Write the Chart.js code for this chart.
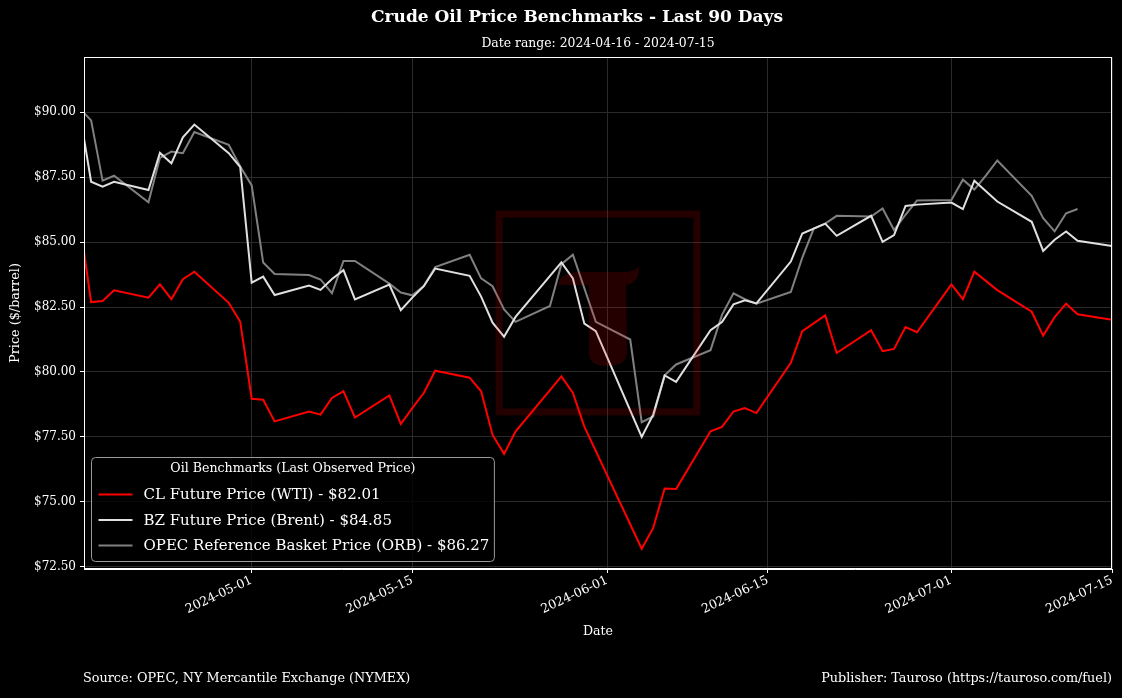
<!DOCTYPE html>
<html>
<head>
<meta charset="utf-8">
<title>Crude Oil Price Benchmarks - Last 90 Days</title>
<script src="https://cdn.jsdelivr.net/npm/chart.js@4.4.1/dist/chart.umd.min.js"></script>
<style>
  html, body { margin: 0; padding: 0; background: #000; }
  #wrap { width: 1122px; height: 698px; }
</style>
</head>
<body>
<div id="wrap"><canvas id="oilChart" width="1122" height="698"></canvas></div>
<script>
// CL Future (WTI), trading days
const wtiDates = [
  '2024-04-16','2024-04-17','2024-04-18','2024-04-19','2024-04-22','2024-04-23','2024-04-24','2024-04-25','2024-04-26',
  '2024-04-29','2024-04-30','2024-05-01','2024-05-02','2024-05-03','2024-05-06','2024-05-07','2024-05-08','2024-05-09',
  '2024-05-10','2024-05-13','2024-05-14','2024-05-15','2024-05-16','2024-05-17','2024-05-20','2024-05-21','2024-05-22',
  '2024-05-23','2024-05-24','2024-05-28','2024-05-29','2024-05-30','2024-06-04','2024-06-05','2024-06-06','2024-06-07',
  '2024-06-10','2024-06-11','2024-06-12','2024-06-13','2024-06-14','2024-06-17','2024-06-18','2024-06-20','2024-06-21',
  '2024-06-24','2024-06-25','2024-06-26','2024-06-27','2024-06-28','2024-07-01','2024-07-02','2024-07-03','2024-07-05',
  '2024-07-08','2024-07-09','2024-07-10','2024-07-11','2024-07-12','2024-07-15'
];
const wtiPrices = [
  85.80, 82.69, 82.73, 83.14, 82.86, 83.37, 82.80, 83.57, 83.86,
  82.66, 81.93, 78.97, 78.93, 78.10, 78.48, 78.36, 79.00, 79.26,
  78.25, 79.10, 78.00, 78.61, 79.19, 80.05, 79.78, 79.26, 77.58,
  76.85, 77.71, 79.83, 79.19, 77.90, 73.20, 74.00, 75.52, 75.50,
  77.72, 77.89, 78.48, 78.61, 78.42, 80.35, 81.57, 82.18, 80.73,
  81.61, 80.80, 80.89, 81.73, 81.53, 83.37, 82.80, 83.86, 83.15,
  82.32, 81.40, 82.11, 82.63, 82.22, 82.01
];

// BZ Future (Brent)
const brentDates = [
  '2024-04-16','2024-04-17','2024-04-18','2024-04-19','2024-04-22','2024-04-23','2024-04-24','2024-04-25','2024-04-26',
  '2024-04-29','2024-04-30','2024-05-01','2024-05-02','2024-05-03','2024-05-06','2024-05-07','2024-05-08','2024-05-09',
  '2024-05-10','2024-05-13','2024-05-14','2024-05-15','2024-05-16','2024-05-17','2024-05-20','2024-05-21','2024-05-22',
  '2024-05-23','2024-05-24','2024-05-28','2024-05-29','2024-05-30','2024-05-31','2024-06-04','2024-06-05','2024-06-06',
  '2024-06-07','2024-06-10','2024-06-11','2024-06-12','2024-06-13','2024-06-14','2024-06-17','2024-06-18','2024-06-20',
  '2024-06-21','2024-06-24','2024-06-25','2024-06-26','2024-06-27','2024-06-28','2024-07-01','2024-07-02','2024-07-03',
  '2024-07-05','2024-07-08','2024-07-09','2024-07-10','2024-07-11','2024-07-12','2024-07-15'
];
const brentPrices = [
  90.00, 87.32, 87.13, 87.32, 87.00, 88.43, 88.03, 89.03, 89.52,
  88.42, 87.88, 83.44, 83.67, 82.96, 83.33, 83.16, 83.58, 83.92,
  82.79, 83.36, 82.38, 82.86, 83.30, 83.98, 83.70, 82.90, 81.90,
  81.36, 82.12, 84.22, 83.60, 81.86, 81.57, 77.50, 78.36, 79.87,
  79.62, 81.61, 81.92, 82.60, 82.76, 82.64, 84.25, 85.33, 85.71,
  85.24, 86.01, 85.01, 85.27, 86.39, 86.44, 86.52, 86.27, 87.36,
  86.56, 85.78, 84.66, 85.09, 85.41, 85.05, 84.85
];

// OPEC Reference Basket (ORB)
const orbDates = [
  '2024-04-16','2024-04-17','2024-04-18','2024-04-19','2024-04-22','2024-04-23','2024-04-24','2024-04-25','2024-04-26',
  '2024-04-29','2024-04-30','2024-05-01','2024-05-02','2024-05-03','2024-05-06','2024-05-07','2024-05-08','2024-05-09',
  '2024-05-10','2024-05-13','2024-05-14','2024-05-15','2024-05-16','2024-05-17','2024-05-20','2024-05-21','2024-05-22',
  '2024-05-23','2024-05-24','2024-05-27','2024-05-28','2024-05-29','2024-05-31','2024-06-03','2024-06-04','2024-06-05',
  '2024-06-06','2024-06-07','2024-06-10','2024-06-11','2024-06-12','2024-06-13','2024-06-14','2024-06-17','2024-06-18',
  '2024-06-19','2024-06-20','2024-06-21','2024-06-24','2024-06-25','2024-06-26','2024-06-27','2024-06-28','2024-07-01',
  '2024-07-02','2024-07-03','2024-07-04','2024-07-05','2024-07-08','2024-07-09','2024-07-10','2024-07-11','2024-07-12'
];
const orbPrices = [
  90.15, 89.68, 87.36, 87.55, 86.53, 88.24, 88.48, 88.42, 89.23,
  88.74, 87.91, 87.18, 84.21, 83.77, 83.73, 83.56, 83.03, 84.27,
  84.27, 83.40, 83.06, 82.95, 83.31, 84.04, 84.51, 83.60, 83.30,
  82.41, 81.93, 82.54, 84.15, 84.51, 81.93, 81.25, 78.07, 78.29,
  79.87, 80.29, 80.84, 82.20, 83.03, 82.80, 82.63, 83.08, 84.40,
  85.52, 85.71, 86.01, 85.98, 86.29, 85.46, 86.05, 86.60, 86.62,
  87.40, 87.02, 87.56, 88.14, 86.78, 85.92, 85.41, 86.11, 86.27
];

// axis ticks
const xTickDates = ['2024-05-01', '2024-05-15', '2024-06-01', '2024-06-15', '2024-07-01', '2024-07-15'];
const yTickValues = [72.5, 75, 77.5, 80, 82.5, 85, 87.5, 90];

const startDay = Date.UTC(2024, 3, 16);
const DAY = 86400000;

// дата 'YYYY-MM-DD' -> число дней от 16 апреля
function dayNum(s) {
  const [y, m, d] = s.split('-').map(Number);
  return (Date.UTC(y, m - 1, d) - startDay) / DAY;
}
function dayLabel(n) {
  return new Date(startDay + Math.round(n) * DAY).toISOString().slice(0, 10);
}
function toPoints(dates, prices) {
  return dates.map((d, i) => ({ x: dayNum(d), y: prices[i] }));
}
function lastPrice(arr) {
  return '$' + arr[arr.length - 1].toFixed(2);
}

const serif = 'DejaVu Serif';

// водяной знак, легенда, подписи
const decorPlugin = {
  id: 'decor',
  afterDatasetsDraw(chart) {
    const ctx = chart.ctx;
    const a = chart.chartArea;
    const cx = (a.left + a.right) / 2;
    const cy = (a.top + a.bottom) / 2;
    const half = (a.bottom - a.top) * 0.2;
    ctx.save();
    ctx.strokeStyle = 'rgba(255,0,0,0.14)';
    ctx.fillStyle = 'rgba(255,0,0,0.14)';
    ctx.lineWidth = 7;
    ctx.strokeRect(cx - half + 3.5, cy - half + 3.5, half * 2 - 7, half * 2 - 7);
    // логотип T
    ctx.beginPath();
    ctx.moveTo(cx - 40, cy - 28);
    ctx.quadraticCurveTo(cx - 38, cy - 40, cx - 20, cy - 41);
    ctx.lineTo(cx + 28, cy - 41);
    ctx.quadraticCurveTo(cx + 38, cy - 42, cx + 41, cy - 47);
    ctx.quadraticCurveTo(cx + 42, cy - 30, cx + 28, cy - 28);
    ctx.lineTo(cx + 29, cy + 40);
    ctx.quadraticCurveTo(cx + 28, cy + 53, cx + 9, cy + 53);
    ctx.quadraticCurveTo(cx - 9, cy + 53, cx - 9, cy + 40);
    ctx.lineTo(cx - 9, cy - 28);
    ctx.closePath();
    ctx.fill();
    ctx.restore();
  },
  afterDraw(chart) {
    const ctx = chart.ctx;
    const a = chart.chartArea;
    ctx.save();
    // рамка вокруг области графика
    ctx.strokeStyle = '#ffffff';
    ctx.lineWidth = 1;
    ctx.strokeRect(Math.round(a.left) + 0.5, Math.round(a.top) + 0.5,
      Math.round(a.right - a.left) - 1, Math.round(a.bottom - a.top) - 1);

    // заголовки
    ctx.fillStyle = '#ffffff';
    ctx.textBaseline = 'middle';
    ctx.textAlign = 'center';
    ctx.font = 'bold 17px "' + serif + '"';
    ctx.fillText('Crude Oil Price Benchmarks - Last 90 Days', 577, 18);
    ctx.font = '12.4px "' + serif + '"';
    ctx.fillText('Date range: 2024-04-16 - 2024-07-15', (a.left + a.right) / 2, 44);

    // подвал
    ctx.font = '12.8px "' + serif + '"';
    ctx.textAlign = 'left';
    ctx.fillText('Source: OPEC, NY Mercantile Exchange (NYMEX)', a.left - 1, 679);
    ctx.textAlign = 'right';
    ctx.fillText('Publisher: Tauroso (https://tauroso.com/fuel)', a.right, 679);

    // легенда
    const sets = chart.data.datasets;
    ctx.font = '15px "' + serif + '"';
    let maxW = 0;
    sets.forEach(ds => { maxW = Math.max(maxW, ctx.measureText(ds.label).width); });
    const bx = a.left + 7.5;
    const bh = 104;
    const by = a.bottom - 7.5 - bh;
    const bw = 53 + maxW + 4;
    ctx.beginPath();
    ctx.roundRect(bx, by, bw, bh, 4);
    ctx.fillStyle = 'rgba(0,0,0,0.8)';
    ctx.fill();
    ctx.strokeStyle = '#9a9a9a';
    ctx.lineWidth = 1;
    ctx.stroke();
    ctx.fillStyle = '#ffffff';
    ctx.textAlign = 'center';
    ctx.font = '12.6px "' + serif + '"';
    ctx.fillText('Oil Benchmarks (Last Observed Price)', bx + bw / 2, by + 11);
    ctx.font = '15px "' + serif + '"';
    ctx.textAlign = 'left';
    sets.forEach((ds, i) => {
      const y = by + 37 + i * 25.5;
      ctx.strokeStyle = ds.borderColor;
      ctx.lineWidth = 2;
      ctx.beginPath();
      ctx.moveTo(bx + 7, y);
      ctx.lineTo(bx + 41, y);
      ctx.stroke();
      ctx.fillStyle = '#ffffff';
      ctx.fillText(ds.label, bx + 52, y + 1);
    });
    ctx.restore();
  }
};

const tickFont = { family: serif, size: 12 };

new Chart(document.getElementById('oilChart'), {
  type: 'line',
  data: {
    datasets: [
      {
        label: 'CL Future Price (WTI) - ' + lastPrice(wtiPrices),
        data: toPoints(wtiDates, wtiPrices),
        borderColor: '#ff0000',
        borderWidth: 2,
        pointRadius: 0,
        fill: false
      },
      {
        label: 'BZ Future Price (Brent) - ' + lastPrice(brentPrices),
        data: toPoints(brentDates, brentPrices),
        borderColor: '#e0e0e0',
        borderWidth: 2,
        pointRadius: 0,
        fill: false
      },
      {
        label: 'OPEC Reference Basket Price (ORB) - ' + lastPrice(orbPrices),
        data: toPoints(orbDates, orbPrices),
        borderColor: '#808080',
        borderWidth: 2,
        pointRadius: 0,
        fill: false
      }
    ]
  },
  options: {
    responsive: false,
    animation: false,
    devicePixelRatio: 1,
    layout: { padding: { top: 57, right: 10, bottom: 58, left: 0 } },
    plugins: {
      legend: { display: false },
      tooltip: { enabled: false }
    },
    scales: {
      x: {
        type: 'linear',
        min: 0.38,
        max: 90,
        afterBuildTicks: s => { s.ticks = xTickDates.map(d => ({ value: dayNum(d) })); },
        afterFit: s => { s.height = 71; s.paddingLeft = 0; s.paddingRight = 0; },
        ticks: {
          color: '#ffffff',
          font: { family: serif, size: 12.5 },
          autoSkip: false,
          minRotation: 25,
          maxRotation: 25,
          padding: 0,
          callback: v => dayLabel(v)
        },
        grid: { color: '#2a2a2a', tickColor: '#ffffff', tickLength: 4 },
        border: { color: '#ffffff' },
        title: {
          display: true,
          text: 'Date',
          color: '#ffffff',
          font: { family: serif, size: 12.6 },
          padding: { top: 0, bottom: 1 }
        }
      },
      y: {
        type: 'linear',
        min: 72.42,
        max: 92.12,
        afterBuildTicks: s => { s.ticks = yTickValues.map(v => ({ value: v })); },
        afterFit: s => { s.width = 84; },
        ticks: {
          color: '#ffffff',
          font: tickFont,
          padding: 4,
          callback: v => '$' + v.toFixed(2)
        },
        grid: { color: '#2a2a2a', tickColor: '#ffffff', tickLength: 4 },
        border: { color: '#ffffff' },
        title: {
          display: true,
          text: 'Price ($/barrel)',
          color: '#ffffff',
          font: { family: serif, size: 12.8 },
          padding: { top: 8, bottom: 0 }
        }
      }
    }
  },
  plugins: [decorPlugin]
});
</script>
</body>
</html>
